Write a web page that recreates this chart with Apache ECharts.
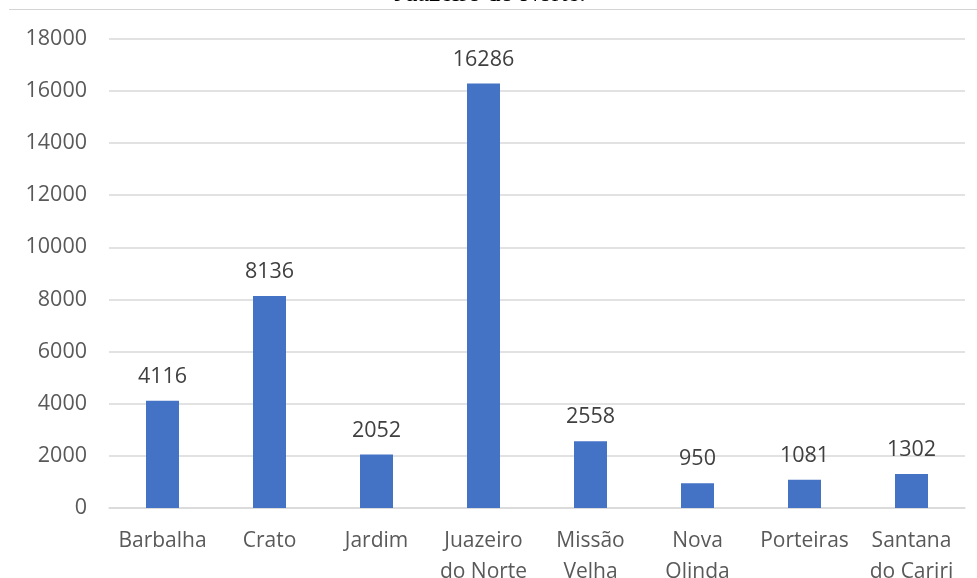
<!DOCTYPE html>
<html><head><meta charset="utf-8">
<script src="https://cdn.jsdelivr.net/npm/echarts@6/dist/echarts.min.js"></script>
<style>html,body{margin:0;padding:0;background:#fff}#c{width:977px;height:578px}</style>
</head><body><div id="c"></div>
<script>
const categories = ['Barbalha', 'Crato', 'Jardim', 'Juazeiro\ndo Norte', 'Missão\nVelha', 'Nova\nOlinda', 'Porteiras', 'Santana\ndo Cariri'];
const values = [4116, 8136, 2052, 16286, 2558, 950, 1081, 1302];
const yTicks = { min: 0, max: 18000, interval: 2000 };
const chart = echarts.init(document.getElementById('c'), null, { renderer: 'canvas' });
const font = "Open Sans";
chart.setOption({
  animation: false,
  backgroundColor: '#fff',
  graphic: [
    { type: 'text', x: 490, y: -19, style: { text: 'Juazeiro do Norte.', align: 'center', font: "26px 'Liberation Serif'", fill: '#000' } },
    { type: 'line', shape: { x1: 9, y1: 9.5, x2: 977, y2: 9.5 }, style: { stroke: '#d4d4d4', lineWidth: 1 } }
  ],
  grid: { left: 109, right: 12, top: 38.7, bottom: 70, containLabel: false, outerBoundsMode: 'none' },
  xAxis: {
    type: 'category', data: categories,
    axisLine: { show: true, lineStyle: { color: '#d9d9d9', width: 1.5 } },
    axisTick: { show: false },
    axisLabel: { color: '#595959', fontFamily: font, fontSize: 21, lineHeight: 31, margin: 18, interval: 0, hideOverlap: false }
  },
  yAxis: {
    type: 'value', min: yTicks.min, max: yTicks.max, interval: yTicks.interval,
    axisLine: { show: false }, axisTick: { show: false },
    splitLine: { lineStyle: { color: '#d9d9d9', width: 1.5 } },
    axisLabel: { color: '#595959', fontFamily: font, fontSize: 21.5, margin: 22, formatter: v => String(v) }
  },
  series: [{
    type: 'bar', data: values, barWidth: 33,
    itemStyle: { color: '#4472c4' },
    label: { show: true, position: 'top', distance: 13, color: '#404040', fontFamily: font, fontSize: 21.5 }
  }]
});
</script></body></html>
